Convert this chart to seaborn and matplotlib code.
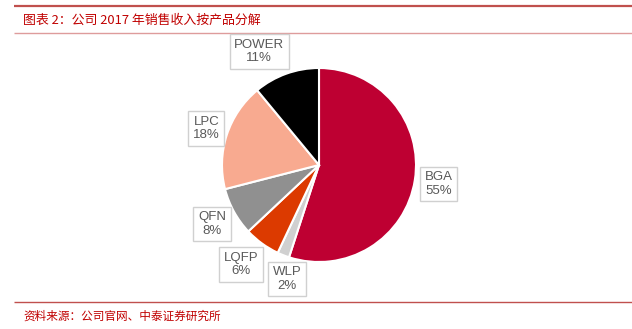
import numpy as np
import matplotlib
matplotlib.use("Agg")
import matplotlib.pyplot as plt
import seaborn as sns

categories = ["BGA", "WLP", "LQFP", "QFN", "LPC", "POWER"]
shares = [55, 2, 6, 8, 18, 11]
colors = ["#BE0032", "#D0D0D0", "#DC3A00", "#909090", "#F8AA90", "#000000"]
title = "图表 2：公司 2017 年销售收入按产品分解"
source = "资料来源：公司官网、中泰证券研究所"

sns.set_theme(style="white")
plt.rcParams['font.family'] = ['Liberation Sans', 'Noto Sans CJK SC', 'DejaVu Sans']

W, H = 632, 329
fig = plt.figure(figsize=(W / 100, H / 100), dpi=100)
ax = fig.add_axes([0, 0, 1, 1])
ax.set_xlim(0, W)
ax.set_ylim(0, H)
ax.set_aspect("equal")
ax.axis("off")

cx, cy, R = 319, H - 165, 97
wedges, _ = ax.pie(shares, colors=colors, startangle=90, counterclock=False,
                   center=(cx, cy), radius=R, frame=True,
                   wedgeprops=dict(edgecolor="white", linewidth=1.5))
ax.set_xlim(0, W)
ax.set_ylim(0, H)
ax.axis("off")

dist = {"BGA": 1.25, "WLP": 1.22, "LQFP": 1.30, "QFN": 1.26, "LPC": 1.22, "POWER": 1.32}
shift = {"WLP": 6, "POWER": 8, "LQFP": -2}
for w, name, v in zip(wedges, categories, shares):
    ang = np.deg2rad((w.theta1 + w.theta2) / 2 + shift.get(name, 0))
    d = dist[name] * R
    ax.text(cx + d * np.cos(ang), cy + d * np.sin(ang), f"{name}\n{v}%",
            ha="center", va="center", fontsize=9.5, color="#595959",
            linespacing=1.15, family=["Liberation Sans", "DejaVu Sans"],
            bbox=dict(boxstyle="square,pad=0.35", facecolor="white",
                      edgecolor="#D0D0D0", linewidth=1))

red = "#C0504D"
ax.plot([14, W], [H - 6, H - 6], color=red, lw=1.6, solid_capstyle="butt")
ax.plot([14, W], [H - 33, H - 33], color="#DE9C9C", lw=1.0, solid_capstyle="butt")
ax.plot([14, W], [H - 302, H - 302], color=red, lw=1.0, solid_capstyle="butt")

ax.text(23, H - 20, title, ha="left", va="center", fontsize=9.3, color="#C00000",
        family=["Noto Sans CJK SC", "DejaVu Sans"])
ax.text(23, H - 316, source, ha="left", va="center", fontsize=8.4, color="#C00000",
        family=["Noto Sans CJK SC", "DejaVu Sans"])

fig.savefig("out.png", dpi=100)
